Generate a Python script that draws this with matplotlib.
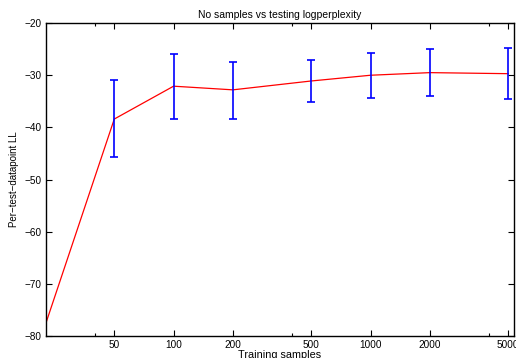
import numpy as np
import matplotlib
matplotlib.use("Agg")
import matplotlib.pyplot as plt

plt.rcParams['font.family'] = ['Liberation Sans', 'DejaVu Sans']

# data
samples = [22.5, 50, 100, 200, 500, 1000, 2000, 5000]
loglik = [-77.5, -38.4, -32.1, -32.8, -31.1, -30.0, -29.5, -29.7]
err_x = [50, 100, 200, 500, 1000, 2000, 5000]
err_y = [-38.4, -32.1, -32.8, -31.1, -30.0, -29.5, -29.7]
err_lo = [7.3, 6.2, 5.5, 4.1, 4.4, 4.4, 4.9]
err_hi = [7.4, 6.1, 5.4, 4.1, 4.3, 4.5, 5.0]
xticks = [50, 100, 200, 500, 1000, 2000, 5000]
yticks = [-80, -70, -60, -50, -40, -30, -20]

fig = plt.figure(figsize=(5.16, 3.58), dpi=100)
ax = fig.add_axes([0.0891, 0.0615, 0.907, 0.874])

ax.plot(samples, loglik, color='red', lw=0.9, zorder=2)
ax.errorbar(err_x, err_y, yerr=[err_lo, err_hi], fmt='none', ecolor='blue',
            elinewidth=1.2, capsize=3.2, capthick=1.2, zorder=3)

ax.set_xscale('log')
ax.set_xlim(22.5, 5350)
ax.set_ylim(-80, -20)
ax.set_xticks(xticks)
ax.set_xticklabels([str(t) for t in xticks])
ax.set_xticks([40, 400, 4000], minor=True)
ax.set_xticklabels([], minor=True)
ax.set_yticks(yticks)
ax.set_yticklabels(['\u2212%d' % -t for t in yticks])

ax.tick_params(which='both', direction='in', top=True, right=True,
               labelsize=7.2, pad=3)
ax.tick_params(which='major', length=4, width=0.8)
ax.tick_params(which='minor', length=2.5, width=0.8)
for s in ax.spines.values():
    s.set_linewidth(1.0)

ax.set_title('No samples vs testing logperplexity', fontsize=7.5, pad=4)
ax.set_xlabel('Training samples', fontsize=7.8, labelpad=0)
ax.set_ylabel('Per\u2212test\u2212datapoint LL', fontsize=7, labelpad=4)

fig.savefig('out.png', dpi=100)
